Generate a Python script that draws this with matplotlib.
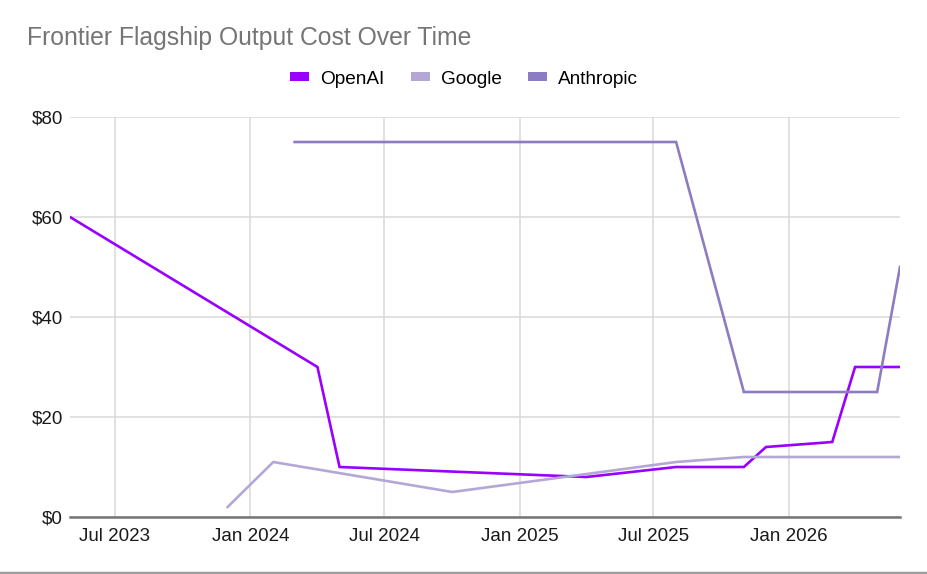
import matplotlib
matplotlib.use('Agg')
import matplotlib.pyplot as plt
import matplotlib.dates as mdates
from matplotlib.lines import Line2D
from matplotlib.patches import Patch
import pandas as pd

plt.rcParams['font.family'] = ['Liberation Sans', 'DejaVu Sans']

# ============================================================
# data (USD per 1M output tokens)
# ============================================================
openai_dates = ['2023-05-01', '2024-04-01', '2024-05-01', '2025-04-01', '2025-08-01',
                '2025-11-01', '2025-12-01', '2026-03-01', '2026-04-01', '2026-06-01']
openai_cost = [60, 30, 10, 8, 10, 10, 14, 15, 30, 30]

google_dates = ['2023-12-01', '2024-02-01', '2024-10-01', '2025-08-01', '2025-11-01', '2026-06-01']
google_cost = [2, 11, 5, 11, 12, 12]

anthropic_dates = ['2024-03-01', '2025-08-01', '2025-11-01', '2026-05-01', '2026-06-01']
anthropic_cost = [75, 75, 25, 25, 50]

series = [
    ('OpenAI', openai_dates, openai_cost, '#9900ff'),
    ('Google', google_dates, google_cost, '#b4a7d6'),
    ('Anthropic', anthropic_dates, anthropic_cost, '#8e7cc3'),
]

yticks = [0, 20, 40, 60, 80]
xticks = ['2023-07-01', '2024-01-01', '2024-07-01', '2025-01-01', '2025-07-01', '2026-01-01']

# ============================================================
# plot
# ============================================================
fig = plt.figure(figsize=(9.28, 5.74), dpi=100)
ax = fig.add_axes([70 / 928, 57 / 574, 830 / 928, 400 / 574])

for name, d, v, c in series:
    ax.plot(pd.to_datetime(d), v, color=c, lw=1.9, label=name, solid_joinstyle='miter', zorder=3)

ax.set_xlim(pd.Timestamp('2023-05-01'), pd.Timestamp('2026-06-01'))
ax.set_ylim(0, 80)
ax.set_yticks(yticks)
ax.set_yticklabels([f'${t}' for t in yticks])
ax.set_xticks(pd.to_datetime(xticks))
ax.xaxis.set_major_formatter(mdates.DateFormatter('%b %Y'))

ax.grid(True, color='#d9d9d9', lw=1.1, zorder=0)
for s in ['top', 'right', 'left']:
    ax.spines[s].set_visible(False)
ax.spines['bottom'].set_color('#757575')
ax.spines['bottom'].set_linewidth(1.8)
ax.spines['bottom'].set_zorder(4)
ax.tick_params(length=0, labelsize=13.5, labelcolor='#1a1a1a')
ax.tick_params(axis='x', pad=8)
ax.tick_params(axis='y', pad=5)

fig.text(27 / 928, 1 - 38 / 574, 'Frontier Flagship Output Cost Over Time',
         fontsize=17.8, color='#757575', va='center', ha='left')

handles = [Patch(facecolor=c, edgecolor='none') for _, _, _, c in series]
fig.legend(handles, [s[0] for s in series], loc='center', bbox_to_anchor=(0.5, 1 - 79 / 574),
           ncol=3, frameon=False, fontsize=13.7, handlelength=1.0, handleheight=0.32,
           handletextpad=0.58, columnspacing=1.37)

# bottom border line
fig.add_artist(Line2D([0, 1], [1.5 / 574, 1.5 / 574], transform=fig.transFigure,
                      color='#9e9e9e', lw=2.5))

fig.savefig('out.png', dpi=100, facecolor='white')
